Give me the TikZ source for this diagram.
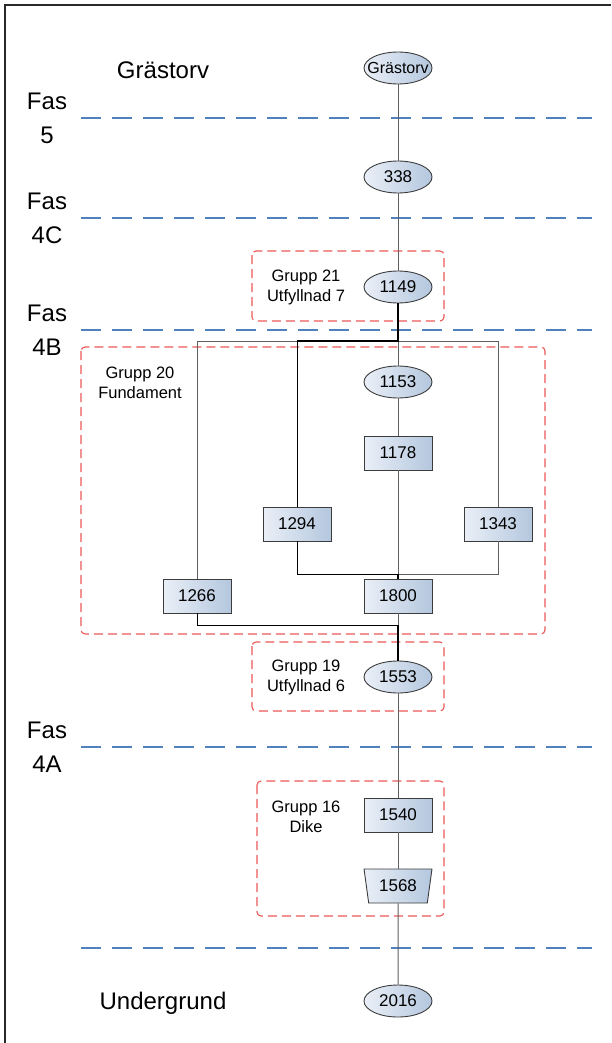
\documentclass[tikz,border=0pt]{standalone}
\usepackage{fontspec}
\setmainfont{Liberation Sans}
\usetikzlibrary{shapes.geometric}

\definecolor{faseblue}{RGB}{79,129,189}
\definecolor{groupred}{RGB}{236,88,88}
\definecolor{nodelight}{RGB}{234,239,247}
\definecolor{nodedark}{RGB}{180,199,222}
\definecolor{nodeedge}{RGB}{60,60,60}
\definecolor{linkgrey}{RGB}{95,95,95}
\definecolor{framegrey}{RGB}{40,40,40}

\tikzset{
  unit/.style={draw=nodeedge, line width=0.9pt, left color=nodelight, right color=nodedark,
    inner sep=0pt, font=\fontsize{17}{17}\selectfont},
  ellunit/.style={unit, ellipse, minimum width=68pt, minimum height=32pt},
  boxunit/.style={unit, rectangle, minimum width=68pt, minimum height=34pt},
  trapunit/.style={unit, trapezium, trapezium angle=76, trapezium stretches=true,
    shape border rotate=180, minimum width=68pt, minimum height=34pt},
  faseline/.style={draw=faseblue, line width=1.8pt, dash pattern=on 20pt off 11pt},
  groupbox/.style={draw=groupred, line width=1.1pt, dash pattern=on 9pt off 5pt, rounded corners=4pt},
  fasetext/.style={align=center, font=\fontsize{24}{34}\selectfont},
  layertext/.style={font=\fontsize{24}{28}\selectfont},
  grouptext/.style={align=center, font=\fontsize{16.5}{20}\selectfont},
  thin link/.style={draw=linkgrey, line width=1pt},
  dark link/.style={draw=black, line width=1pt},
  main link/.style={draw=black, line width=2pt},
}

\begin{document}
\begin{tikzpicture}[x=1pt, y=-1pt]
  \useasboundingbox (0,0) rectangle (611,1043);

  % page frame
  \draw[framegrey, line width=1.8pt] (5,1043) -- (5,5) -- (611,5);

  % phase boundaries
  \foreach \yy in {118,218,330,747,948}
    \draw[faseline] (81,\yy) -- (592,\yy);

  % group frames
  \draw[groupbox] (252,251) rectangle (444,321);
  \draw[groupbox] (81,347) rectangle (545,634);
  \draw[groupbox] (252,642) rectangle (444,711);
  \draw[groupbox] (257,781) rectangle (444,916);

  % labels
  \node[layertext] (lgras) at (163,70) {Grästorv};
  \node[layertext] (lunder) at (163,1003) {Undergrund};
  \node[fasetext] (f5)  at (47,118) {Fas\\5};
  \node[fasetext] (f4c) at (47,218) {Fas\\4C};
  \node[fasetext] (f4b) at (47,330) {Fas\\4B};
  \node[fasetext] (f4a) at (47,747) {Fas\\4A};
  \node[grouptext] (g21) at (306,287) {Grupp 21\\Utfyllnad 7};
  \node[grouptext] (g20) at (140,383) {Grupp 20\\Fundament};
  \node[grouptext] (g19) at (306,677) {Grupp 19\\Utfyllnad 6};
  \node[grouptext] (g16) at (306,817) {Grupp 16\\Dike};

  % units
  \node[ellunit, font=\fontsize{16}{16}\selectfont] (gras) at (398,68) {\makebox[0pt][c]{Grästorv}};
  \node[ellunit] (u338)  at (398,177) {338};
  \node[ellunit] (u1149) at (398,287) {1149};
  \node[ellunit] (u1153) at (398,382) {1153};
  \node[boxunit] (u1178) at (398,453) {1178};
  \node[boxunit] (u1294) at (297,524) {1294};
  \node[boxunit] (u1343) at (498,524) {1343};
  \node[boxunit] (u1266) at (197,596) {1266};
  \node[boxunit] (u1800) at (398,596) {1800};
  \node[ellunit] (u1553) at (398,677) {1553};
  \node[boxunit] (u1540) at (398,815) {1540};
  \node[trapunit] (u1568) at (398,886) {1568};
  \node[ellunit] (u2016) at (398,1001) {2016};

  % junction points
  \coordinate (jtop) at (398,341);
  \coordinate (jbend) at (297,341);
  \coordinate (jmid) at (398,574);
  \coordinate (jlow) at (398,625);

  % grey relations
  \draw[thin link] (gras) -- (u338);
  \draw[thin link] (u338) -- (u1149);
  \draw[thin link] (jtop) -- (u1153);
  \draw[thin link] (u1153) -- (u1178);
  \draw[thin link] (u1178) -- (u1800);
  \draw[thin link] (jtop) -| (u1266.north);
  \draw[thin link] (jtop) -| (u1343.north);
  \draw[thin link] (u1343.south) |- (jmid);
  \draw[thin link] (u1800) -- (jlow);
  \draw[thin link] (u1553) -- (u1540);
  \draw[thin link] (u1540) -- (u1568);
  \draw[thin link] (u1568) -- (u2016);

  % dark relations
  \draw[dark link] (jbend) -- (u1294.north);
  \draw[dark link] (u1294.south) |- (jmid);
  \draw[dark link] (u1266.south) |- (jlow);
  \draw[main link] (u1149) -- (jtop) -- (jbend);
  \draw[main link] (jmid) -- (u1800);
  \draw[main link] (jlow) -- (u1553);
\end{tikzpicture}
\end{document}
